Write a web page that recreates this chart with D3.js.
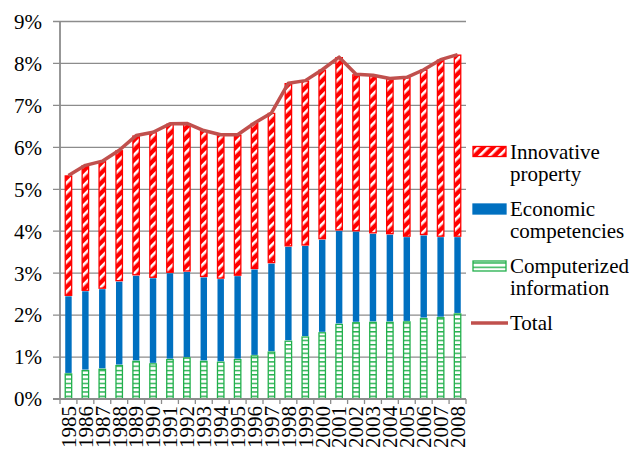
<!DOCTYPE html>
<html>
<head>
<meta charset="utf-8">
<script src="https://cdn.jsdelivr.net/npm/d3@7"></script>
<style>
  body { margin: 0; background: #fff; }
  svg text, svg tspan { font-family: "Liberation Serif", "DejaVu Serif", Tinos, "Times New Roman", Times, serif !important; }
</style>
</head>
<body>
<svg id="chart"></svg>
<script>
const width = 629;
const height = 455;

// data (% of GDP)
const years = ['1985', '1986', '1987', '1988', '1989', '1990', '1991', '1992', '1993', '1994', '1995', '1996',
               '1997', '1998', '1999', '2000', '2001', '2002', '2003', '2004', '2005', '2006', '2007', '2008'];
const computerized = [0.61, 0.69, 0.72, 0.81, 0.91, 0.85, 0.95, 0.99, 0.91, 0.89, 0.95, 1.04,
                      1.13, 1.39, 1.49, 1.59, 1.79, 1.83, 1.84, 1.84, 1.85, 1.93, 1.95, 2.04];
const economic = [1.85, 1.89, 1.91, 2.00, 2.04, 2.04, 2.06, 2.05, 2.00, 1.98, 1.99, 2.06,
                  2.11, 2.25, 2.17, 2.22, 2.23, 2.17, 2.11, 2.09, 2.02, 1.98, 1.92, 1.83];
const innovative = [2.87, 2.99, 3.04, 3.12, 3.33, 3.47, 3.55, 3.53, 3.49, 3.43, 3.36, 3.48,
                    3.58, 3.89, 3.93, 4.04, 4.13, 3.74, 3.77, 3.71, 3.80, 3.94, 4.22, 4.34];
const yTicks = [0, 1, 2, 3, 4, 5, 6, 7, 8, 9];
const seriesNames = ['Computerized information', 'Economic competencies', 'Innovative property'];

const rows = years.map((year, i) => ({
  year,
  'Computerized information': computerized[i],
  'Economic competencies': economic[i],
  'Innovative property': innovative[i],
  total: computerized[i] + economic[i] + innovative[i]
}));

const svg = d3.select('#chart')
  .attr('width', width)
  .attr('height', height);

// fill patterns
const defs = svg.append('defs');
const redHatch = defs.append('pattern')
  .attr('id', 'red-hatch')
  .attr('patternUnits', 'userSpaceOnUse')
  .attr('width', 7)
  .attr('height', 7)
  .attr('patternTransform', 'rotate(45)');
redHatch.append('rect').attr('width', 7).attr('height', 7).attr('fill', '#ff0000');
redHatch.append('rect').attr('x', 0).attr('width', 2.6).attr('height', 7).attr('fill', '#fff');

const greenGrid = defs.append('pattern')
  .attr('id', 'green-grid')
  .attr('patternUnits', 'userSpaceOnUse')
  .attr('width', 8)
  .attr('height', 4.3);
greenGrid.append('rect').attr('width', 8).attr('height', 4.3).attr('fill', '#fff');
greenGrid.append('rect').attr('y', 0).attr('width', 8).attr('height', 1.4).attr('fill', '#22b04c');

const fills = {
  'Computerized information': 'url(#green-grid)',
  'Economic competencies': '#0070c0',
  'Innovative property': 'url(#red-hatch)'
};
const strokes = {
  'Computerized information': '#22b04c',
  'Economic competencies': '#0070c0',
  'Innovative property': '#ff0000'
};

// scales
const x = d3.scaleBand()
  .domain(years)
  .range([60, 466])
  .paddingInner(0.56)
  .paddingOuter(0.28);
const y = d3.scaleLinear()
  .domain([0, 9])
  .range([399, 21.5]);

// grid lines
svg.append('g')
  .selectAll('line')
  .data(yTicks.filter(d => d > 0))
  .join('line')
  .attr('x1', 53)
  .attr('x2', 466)
  .attr('y1', d => y(d))
  .attr('y2', d => y(d))
  .attr('stroke', '#8c8c8c')
  .attr('stroke-width', 1.3);

// y tick labels
svg.append('g')
  .selectAll('text')
  .data(yTicks)
  .join('text')
  .attr('x', 42)
  .attr('y', d => y(d))
  .attr('dy', '0.35em')
  .attr('text-anchor', 'end')
  .style('font-size', '21px')
  .text(d => d + '%');

// stacked bars
const stack = d3.stack().keys(seriesNames);
const layers = stack(rows);

svg.append('g')
  .selectAll('g')
  .data(layers)
  .join('g')
  .each(function(layer) {
    d3.select(this)
      .selectAll('rect')
      .data(layer)
      .join('rect')
      .attr('x', d => x(d.data.year) + 0.5)
      .attr('width', x.bandwidth() - 1)
      .attr('y', d => y(d[1]) + 0.5)
      .attr('height', d => Math.max(0, y(d[0]) - y(d[1]) - 1))
      .attr('fill', fills[layer.key])
      .attr('stroke', strokes[layer.key])
      .attr('stroke-width', layer.key === 'Economic competencies' ? 0 : 1.3);
  });

// axes
svg.append('line')
  .attr('x1', 60).attr('x2', 60)
  .attr('y1', y(9)).attr('y2', y(0))
  .attr('stroke', '#8c8c8c')
  .attr('stroke-width', 1.8);
svg.append('line')
  .attr('x1', 53).attr('x2', 466)
  .attr('y1', y(0)).attr('y2', y(0))
  .attr('stroke', '#8c8c8c')
  .attr('stroke-width', 1.8);

const boundaries = d3.range(years.length + 1).map(i => x.range()[0] + i * x.step());
svg.append('g')
  .selectAll('line')
  .data(boundaries)
  .join('line')
  .attr('x1', d => d).attr('x2', d => d)
  .attr('y1', y(0)).attr('y2', y(0) + 5)
  .attr('stroke', '#8c8c8c')
  .attr('stroke-width', 1.3);

// year labels, rotated
svg.append('g')
  .selectAll('text')
  .data(years)
  .join('text')
  .attr('transform', d => `translate(${x(d) + x.bandwidth() / 2},406) rotate(-90)`)
  .attr('dy', '0.35em')
  .attr('text-anchor', 'end')
  .style('font-size', '21px')
  .text(d => d);

// total line
const line = d3.line()
  .x(d => x(d.year) + x.bandwidth() / 2)
  .y(d => y(d.total));
svg.append('path')
  .datum(rows)
  .attr('d', line)
  .attr('fill', 'none')
  .attr('stroke', '#c0504d')
  .attr('stroke-width', 3.5)
  .attr('stroke-linejoin', 'round');

// legend
const legendItems = [
  { key: 'Innovative property', lines: ['Innovative', 'property'], y: 151.5 },
  { key: 'Economic competencies', lines: ['Economic', 'competencies'], y: 209 },
  { key: 'Computerized information', lines: ['Computerized', 'information'], y: 266 },
  { key: 'Total', lines: ['Total'], y: 323 }
];
const legend = svg.append('g');
legendItems.forEach(item => {
  if (item.key === 'Total') {
    legend.append('line')
      .attr('x1', 471).attr('x2', 508)
      .attr('y1', item.y).attr('y2', item.y)
      .attr('stroke', '#c0504d')
      .attr('stroke-width', 3.5);
  } else {
    legend.append('rect')
      .attr('x', 473).attr('y', item.y - 5)
      .attr('width', 33).attr('height', 10)
      .attr('fill', fills[item.key])
      .attr('stroke', strokes[item.key])
      .attr('stroke-width', 1.3);
  }
  legend.append('text')
    .attr('x', 510)
    .attr('y', item.y)
    .style('font-size', '21px')
    .selectAll('tspan')
    .data(item.lines)
    .join('tspan')
    .attr('x', 510)
    .attr('dy', (d, i) => i === 0 ? '0.35em' : '1.05em')
    .text(d => d);
});
</script>
</body>
</html>
